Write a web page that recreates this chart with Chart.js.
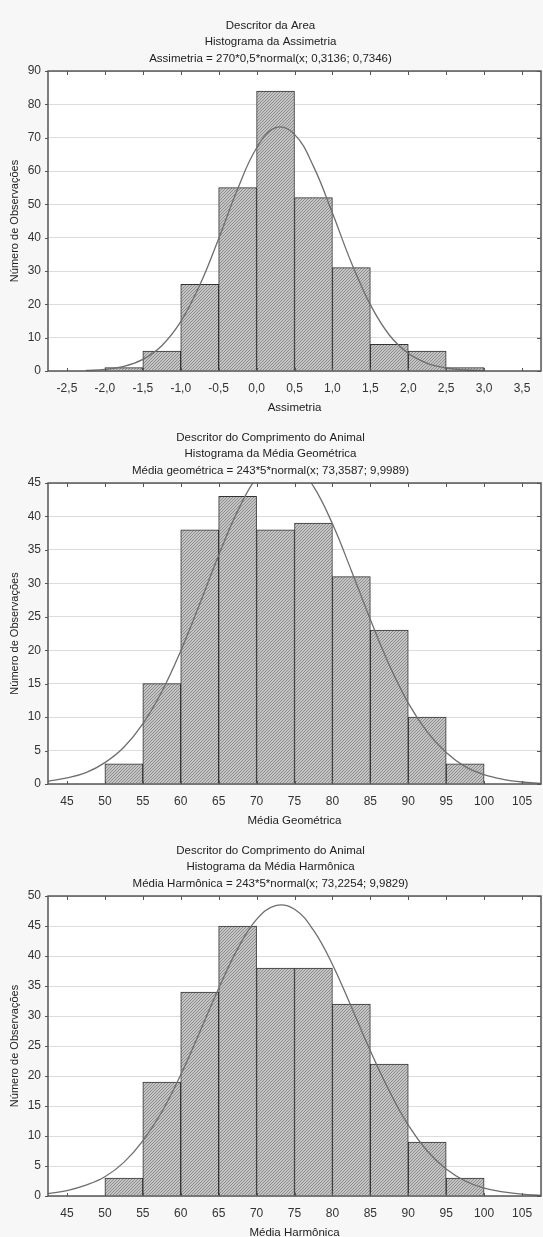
<!DOCTYPE html>
<html>
<head>
<meta charset="utf-8">
<script src="https://cdn.jsdelivr.net/npm/chart.js@4.4.0/dist/chart.umd.min.js"></script>
<style>
    body { margin: 0; background: #f7f7f7; }
    canvas { display: block; }
</style>
</head>
<body>
<canvas id="chart1" width="543" height="412"></canvas>
<canvas id="chart2" width="543" height="413"></canvas>
<canvas id="chart3" width="543" height="412"></canvas>
<script>
// --- chart 1: Assimetria ---
var titles1 = ["Descritor da Area", "Histograma da Assimetria", "Assimetria = 270*0,5*normal(x; 0,3136; 0,7346)"];
var xTitle1 = "Assimetria";
var binCenters1 = [-1.75, -1.25, -0.75, -0.25, 0.25, 0.75, 1.25, 1.75, 2.25, 2.75];
var counts1 = [1, 6, 26, 55, 84, 52, 31, 8, 6, 1];
var curveX1 = [-2.25, -2, -1.75, -1.5, -1.25, -1, -0.75, -0.5, -0.25, 0, 0.25, 0.5, 0.75, 1, 1.25, 1.5, 1.75, 2, 2.25, 2.5, 2.75, 3];
var curveY1 = [0.2, 0.5, 1.4, 3.5, 7.6, 14.8, 25.7, 39.7, 54.6, 66.9, 73, 71, 61.4, 47.4, 32.5, 19.9, 10.8, 5.3, 2.3, 0.9, 0.3, 0.1];
var xTicks1 = [-2.5, -2, -1.5, -1, -0.5, 0, 0.5, 1, 1.5, 2, 2.5, 3, 3.5];
var yTicks1 = [0, 10, 20, 30, 40, 50, 60, 70, 80, 90];

// --- chart 2: Media geometrica ---
var titles2 = ["Descritor do Comprimento do Animal", "Histograma da Média Geométrica", "Média geométrica = 243*5*normal(x; 73,3587; 9,9989)"];
var xTitle2 = "Média Geométrica";
var binCenters2 = [52.5, 57.5, 62.5, 67.5, 72.5, 77.5, 82.5, 87.5, 92.5, 97.5];
var counts2 = [3, 15, 38, 43, 38, 39, 31, 23, 10, 3];
var curveX2 = [42.5, 45, 47.5, 50, 52.5, 55, 57.5, 60, 62.5, 65, 67.5, 70, 72.5, 75, 77.5, 80, 82.5, 85, 87.5, 90, 92.5, 95, 97.5, 100, 102.5, 105, 107.5];
var curveY2 = [0.4, 0.9, 1.7, 3.2, 5.5, 9, 13.8, 19.9, 26.9, 34.2, 40.8, 45.8, 48.3, 47.8, 44.5, 38.9, 31.9, 24.6, 17.8, 12.1, 7.8, 4.7, 2.6, 1.4, 0.7, 0.3, 0.1];
var xTicks2 = [45, 50, 55, 60, 65, 70, 75, 80, 85, 90, 95, 100, 105];
var yTicks2 = [0, 5, 10, 15, 20, 25, 30, 35, 40, 45];

// --- chart 3: Media harmonica ---
var titles3 = ["Descritor do Comprimento do Animal", "Histograma da Média Harmônica", "Média Harmônica = 243*5*normal(x; 73,2254; 9,9829)"];
var xTitle3 = "Média Harmônica";
var binCenters3 = [52.5, 57.5, 62.5, 67.5, 72.5, 77.5, 82.5, 87.5, 92.5, 97.5];
var counts3 = [3, 19, 34, 45, 38, 38, 32, 22, 9, 3];
var curveX3 = [42.5, 45, 47.5, 50, 52.5, 55, 57.5, 60, 62.5, 65, 67.5, 70, 72.5, 75, 77.5, 80, 82.5, 85, 87.5, 90, 92.5, 95, 97.5, 100, 102.5, 105, 107.5];
var curveY3 = [0.4, 0.9, 1.8, 3.2, 5.6, 9.2, 14, 20.2, 27.3, 34.6, 41.2, 46.1, 48.4, 47.8, 44.3, 38.6, 31.5, 24.2, 17.5, 11.8, 7.5, 4.5, 2.5, 1.3, 0.7, 0.3, 0.1];
var xTicks3 = [45, 50, 55, 60, 65, 70, 75, 80, 85, 90, 95, 100, 105];
var yTicks3 = [0, 5, 10, 15, 20, 25, 30, 35, 40, 45, 50];

var yTitle = "Número de Observações";
var fontFamily = "'Liberation Sans', Arial, sans-serif";

// hatched fill for the bars
function makeHatch() {
    var c = document.createElement("canvas");
    c.width = 3;
    c.height = 3;
    var g = c.getContext("2d");
    g.fillStyle = "#c4c4c4";
    g.fillRect(0, 0, 3, 3);
    g.strokeStyle = "#8e8e8e";
    g.lineWidth = 1;
    g.beginPath();
    g.moveTo(0, 3); g.lineTo(3, 0);
    g.moveTo(-1, 1); g.lineTo(1, -1);
    g.moveTo(2, 4); g.lineTo(4, 2);
    g.stroke();
    return g.createPattern(c, "repeat");
}

// background + frame with small tick marks, statistica style
var framePlugin = {
    id: "frame",
    beforeDraw: function (chart) {
        var ctx = chart.ctx, a = chart.chartArea;
        ctx.save();
        ctx.fillStyle = "#f7f7f7";
        ctx.fillRect(0, 0, chart.width, chart.height);
        ctx.fillStyle = "#ffffff";
        ctx.fillRect(a.left, a.top, a.right - a.left, a.bottom - a.top);
        ctx.restore();
    },
    afterDraw: function (chart) {
        var ctx = chart.ctx, a = chart.chartArea;
        var xs = chart.scales.x, ys = chart.scales.y;
        ctx.save();
        ctx.strokeStyle = "#555";
        ctx.lineWidth = 1;
        ctx.beginPath();
        xs.ticks.forEach(function (t) {
            var px = Math.round(xs.getPixelForValue(t.value)) + 0.5;
            ctx.moveTo(px, a.top); ctx.lineTo(px, a.top + 4);
            ctx.moveTo(px, a.bottom); ctx.lineTo(px, a.bottom - 3);
        });
        ys.ticks.forEach(function (t) {
            var py = Math.round(ys.getPixelForValue(t.value)) + 0.5;
            ctx.moveTo(a.right, py); ctx.lineTo(a.right - 4, py);
            ctx.moveTo(a.left, py); ctx.lineTo(a.left - 3, py);
        });
        ctx.stroke();
        ctx.lineWidth = 1.5;
        ctx.strokeRect(a.left, a.top, a.right - a.left, a.bottom - a.top);
        ctx.restore();
    }
};

function makeChart(id, titles, xTitle, centers, counts, cx, cy, xTicks, yTicks, xMin, xMax, decimals) {
    var bars = [];
    for (var i = 0; i < centers.length; i++) {
        bars.push({ x: centers[i], y: counts[i] });
    }
    var curve = [];
    for (var j = 0; j < cx.length; j++) {
        curve.push({ x: cx[j], y: cy[j] });
    }
    var ctx = document.getElementById(id).getContext("2d");
    return new Chart(ctx, {
        type: "bar",
        data: {
            datasets: [{
                type: "line",
                data: curve,
                borderColor: "#6e6e6e",
                borderWidth: 1.3,
                pointRadius: 0,
                tension: 0.4,
                order: 0
            }, {
                type: "bar",
                data: bars,
                backgroundColor: makeHatch(),
                borderColor: "#333",
                borderWidth: 1,
                barPercentage: 1,
                categoryPercentage: 1,
                order: 1
            }]
        },
        options: {
            responsive: false,
            animation: false,
            layout: { padding: { left: 0, right: 2, top: 0, bottom: 0 } },
            plugins: {
                legend: { display: false },
                tooltip: { enabled: false },
                title: {
                    display: true,
                    text: titles,
                    color: "#222",
                    font: { family: fontFamily, size: 11.5, weight: "normal", lineHeight: 1.45 },
                    padding: { top: 17, bottom: 4 }
                }
            },
            scales: {
                x: {
                    type: "linear",
                    min: xMin,
                    max: xMax,
                    offset: false,
                    grid: { display: false, offset: false },
                    border: { display: false },
                    afterBuildTicks: function (scale) {
                        scale.ticks = xTicks.map(function (v) { return { value: v }; });
                    },
                    afterFit: function (scale) { scale.height = 41; },
                    ticks: {
                        color: "#333",
                        padding: 2,
                        maxRotation: 0,
                        autoSkip: false,
                        font: { family: fontFamily, size: 12 },
                        callback: function (v) {
                            return decimals ? v.toFixed(1).replace(".", ",") : String(v);
                        }
                    },
                    title: {
                        display: true,
                        text: xTitle,
                        color: "#222",
                        font: { family: fontFamily, size: 11.5, lineHeight: 1 },
                        padding: { top: 0, bottom: -1.5 }
                    }
                },
                y: {
                    min: yTicks[0],
                    max: yTicks[yTicks.length - 1],
                    afterBuildTicks: function (scale) {
                        scale.ticks = yTicks.map(function (v) { return { value: v }; });
                    },
                    afterFit: function (scale) { scale.width = 48; },
                    grid: { color: "#dcdcdc", drawTicks: false },
                    border: { display: false },
                    ticks: {
                        color: "#333",
                        padding: 7,
                        font: { family: fontFamily, size: 12 }
                    },
                    title: {
                        display: true,
                        text: yTitle,
                        color: "#222",
                        font: { family: fontFamily, size: 11, lineHeight: 1.2 },
                        padding: { top: 8, bottom: 0 }
                    }
                }
            }
        },
        plugins: [framePlugin]
    });
}

makeChart("chart1", titles1, xTitle1, binCenters1, counts1, curveX1, curveY1, xTicks1, yTicks1, -2.75, 3.75, true);
makeChart("chart2", titles2, xTitle2, binCenters2, counts2, curveX2, curveY2, xTicks2, yTicks2, 42.5, 107.5, false);
makeChart("chart3", titles3, xTitle3, binCenters3, counts3, curveX3, curveY3, xTicks3, yTicks3, 42.5, 107.5, false);
</script>
</body>
</html>
